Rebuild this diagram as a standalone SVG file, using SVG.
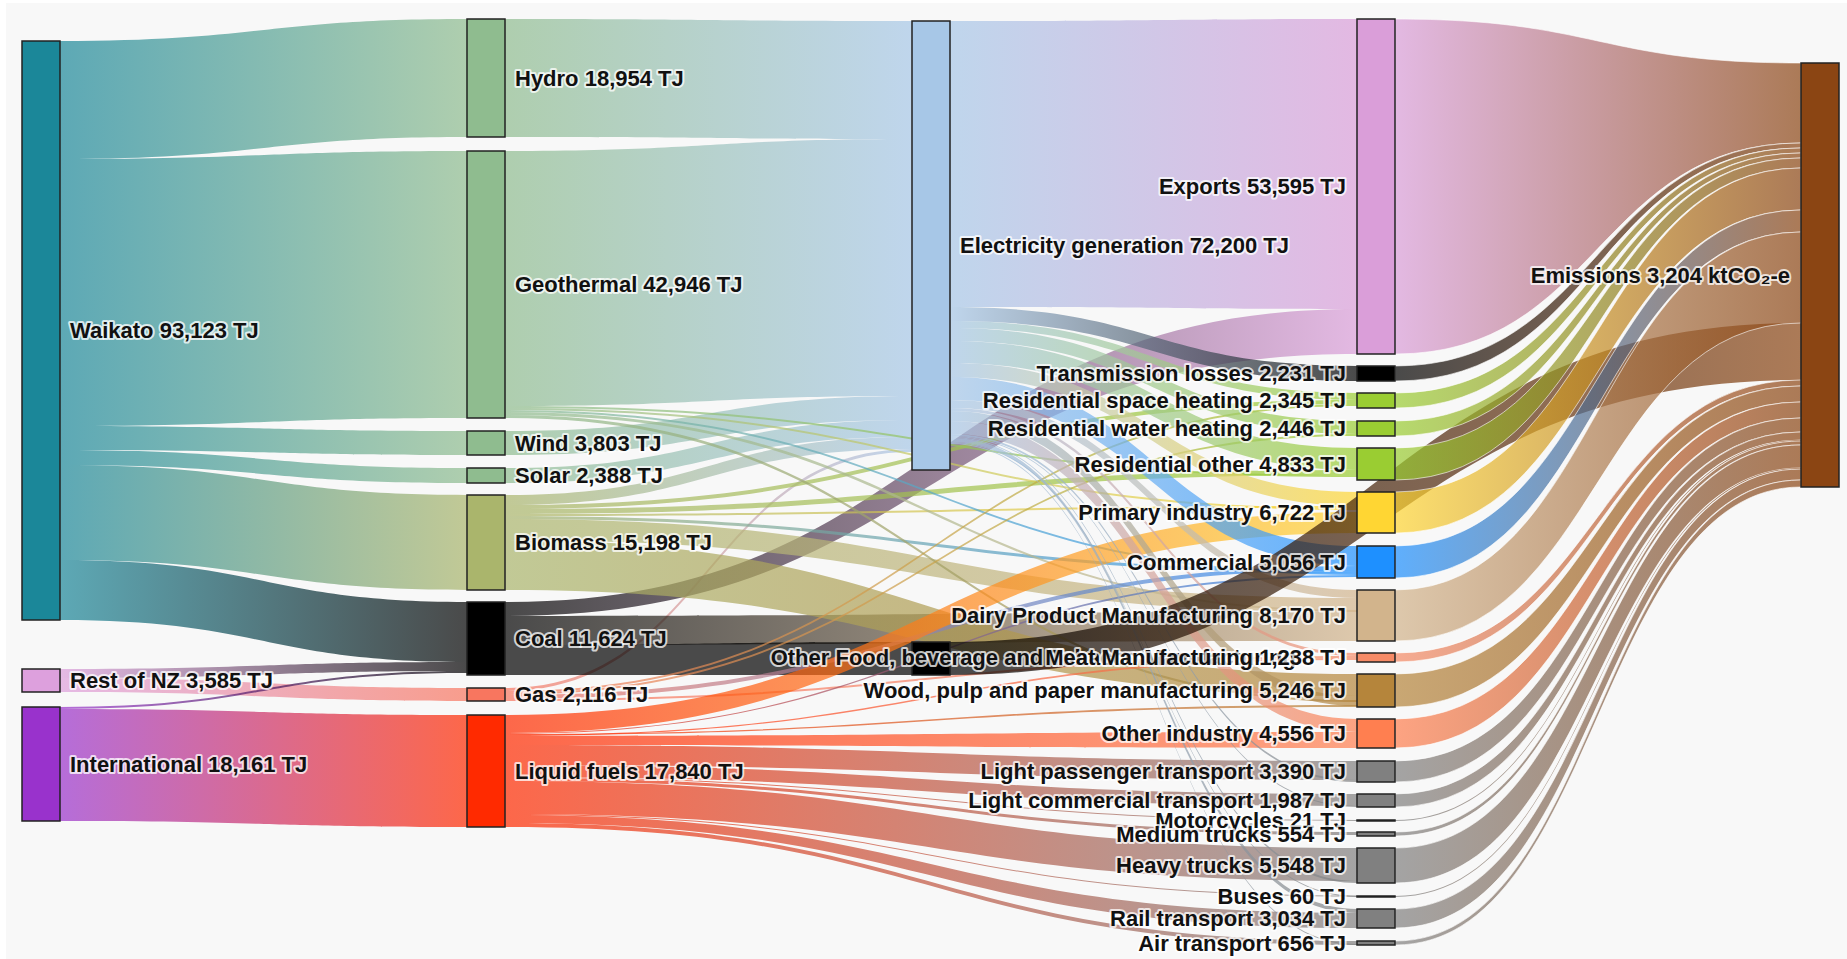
<svg xmlns="http://www.w3.org/2000/svg" width="1847" height="959" viewBox="0 0 1847 959">
<style>
.l{fill-opacity:.7}
.n{stroke:#222;stroke-width:1.5}
.t{font-family:"Liberation Sans",Arial,Helvetica,sans-serif;font-weight:bold;font-size:22px;fill:#111;stroke:#fff;stroke-width:4px;stroke-opacity:.75;stroke-linejoin:round;paint-order:stroke}
.s{text-anchor:start}.e{text-anchor:end}
.wk-sg{fill:url(#wk-sg)}.wk-bm{fill:url(#wk-bm)}.wk-bk{fill:url(#wk-bk)}.rn-bk{fill:url(#rn-bk)}.rn-gs{fill:url(#rn-gs)}.in-bk{fill:url(#in-bk)}.in-lq{fill:url(#in-lq)}
.sg-el{fill:url(#sg-el)}.bm-el{fill:url(#bm-el)}.gs-el{fill:url(#gs-el)}.bk-ex{fill:url(#bk-ex)}.bk-tn{fill:url(#bk-tn)}.bk-bk{fill:#000}
.bm-yg{fill:url(#bm-yg)}.bm-gd{fill:url(#bm-gd)}.bm-db{fill:url(#bm-db)}.bm-tn{fill:url(#bm-tn)}.bm-wd{fill:url(#bm-wd)}
.sg-yg{fill:url(#sg-yg)}.sg-gd{fill:url(#sg-gd)}.sg-db{fill:url(#sg-db)}.sg-tn{fill:url(#sg-tn)}.sg-wd{fill:url(#sg-wd)}
.gs-yg{fill:url(#gs-yg)}.gs-db{fill:url(#gs-db)}.gs-mt{fill:url(#gs-mt)}
.lq-gd{fill:url(#lq-gd)}.lq-db{fill:url(#lq-db)}.lq-wd{fill:url(#lq-wd)}.lq-mt{fill:url(#lq-mt)}.lq-oi{fill:url(#lq-oi)}.lq-gy{fill:url(#lq-gy)}
.el-ex{fill:url(#el-ex)}.el-bk{fill:url(#el-bk)}.el-yg{fill:url(#el-yg)}.el-gd{fill:url(#el-gd)}.el-db{fill:url(#el-db)}.el-tn{fill:url(#el-tn)}.el-mt{fill:url(#el-mt)}.el-wd{fill:url(#el-wd)}.el-oi{fill:url(#el-oi)}.el-gy{fill:url(#el-gy)}
.bk-em{fill:url(#bk-em)}.ex-em{fill:url(#ex-em)}.yg-em{fill:url(#yg-em)}.gd-em{fill:url(#gd-em)}.db-em{fill:url(#db-em)}.tn-em{fill:url(#tn-em)}.mt-em{fill:url(#mt-em)}.wd-em{fill:url(#wd-em)}.oi-em{fill:url(#oi-em)}.gy-em{fill:url(#gy-em)}
.sep{stroke:#fff;stroke-width:1;stroke-opacity:.6}
</style>
<defs>
<linearGradient id="wk-sg"><stop offset="0" stop-color="#1b8799"/><stop offset="1" stop-color="#8fbc8f"/></linearGradient>
<linearGradient id="wk-bm"><stop offset="0" stop-color="#1b8799"/><stop offset="1" stop-color="#aab56c"/></linearGradient>
<linearGradient id="wk-bk"><stop offset="0" stop-color="#1b8799"/><stop offset="1" stop-color="#000"/></linearGradient>
<linearGradient id="rn-bk"><stop offset="0" stop-color="#dda0dd"/><stop offset="1" stop-color="#000"/></linearGradient>
<linearGradient id="rn-gs"><stop offset="0" stop-color="#dda0dd"/><stop offset="1" stop-color="#f8765f"/></linearGradient>
<linearGradient id="in-bk"><stop offset="0" stop-color="#9932cc"/><stop offset="1" stop-color="#000"/></linearGradient>
<linearGradient id="in-lq"><stop offset="0" stop-color="#9932cc"/><stop offset="1" stop-color="#ff2a00"/></linearGradient>
<linearGradient id="sg-el"><stop offset="0" stop-color="#8fbc8f"/><stop offset="1" stop-color="#a7c7e7"/></linearGradient>
<linearGradient id="bm-el"><stop offset="0" stop-color="#aab56c"/><stop offset="1" stop-color="#a7c7e7"/></linearGradient>
<linearGradient id="gs-el"><stop offset="0" stop-color="#f8765f"/><stop offset="1" stop-color="#a7c7e7"/></linearGradient>
<linearGradient id="bk-ex"><stop offset="0" stop-color="#000"/><stop offset="1" stop-color="#da9ed9"/></linearGradient>
<linearGradient id="bk-tn"><stop offset="0" stop-color="#000"/><stop offset="1" stop-color="#d2b48c"/></linearGradient>
<linearGradient id="bm-yg"><stop offset="0" stop-color="#aab56c"/><stop offset="1" stop-color="#9acd32"/></linearGradient>
<linearGradient id="bm-gd"><stop offset="0" stop-color="#aab56c"/><stop offset="1" stop-color="#ffd633"/></linearGradient>
<linearGradient id="bm-db"><stop offset="0" stop-color="#aab56c"/><stop offset="1" stop-color="#1e90ff"/></linearGradient>
<linearGradient id="bm-tn"><stop offset="0" stop-color="#aab56c"/><stop offset="1" stop-color="#d2b48c"/></linearGradient>
<linearGradient id="bm-wd"><stop offset="0" stop-color="#aab56c"/><stop offset="1" stop-color="#b5853b"/></linearGradient>
<linearGradient id="sg-yg"><stop offset="0" stop-color="#8fbc8f"/><stop offset="1" stop-color="#9acd32"/></linearGradient>
<linearGradient id="sg-gd"><stop offset="0" stop-color="#8fbc8f"/><stop offset="1" stop-color="#ffd633"/></linearGradient>
<linearGradient id="sg-db"><stop offset="0" stop-color="#8fbc8f"/><stop offset="1" stop-color="#1e90ff"/></linearGradient>
<linearGradient id="sg-tn"><stop offset="0" stop-color="#8fbc8f"/><stop offset="1" stop-color="#d2b48c"/></linearGradient>
<linearGradient id="sg-wd"><stop offset="0" stop-color="#8fbc8f"/><stop offset="1" stop-color="#b5853b"/></linearGradient>
<linearGradient id="gs-yg"><stop offset="0" stop-color="#f8765f"/><stop offset="1" stop-color="#9acd32"/></linearGradient>
<linearGradient id="gs-db"><stop offset="0" stop-color="#f8765f"/><stop offset="1" stop-color="#1e90ff"/></linearGradient>
<linearGradient id="gs-mt"><stop offset="0" stop-color="#f8765f"/><stop offset="1" stop-color="#f58a66"/></linearGradient>
<linearGradient id="lq-gd"><stop offset="0" stop-color="#ff2a00"/><stop offset="1" stop-color="#ffd633"/></linearGradient>
<linearGradient id="lq-db"><stop offset="0" stop-color="#ff2a00"/><stop offset="1" stop-color="#1e90ff"/></linearGradient>
<linearGradient id="lq-wd"><stop offset="0" stop-color="#ff2a00"/><stop offset="1" stop-color="#b5853b"/></linearGradient>
<linearGradient id="lq-mt"><stop offset="0" stop-color="#ff2a00"/><stop offset="1" stop-color="#f58a66"/></linearGradient>
<linearGradient id="lq-oi"><stop offset="0" stop-color="#ff2a00"/><stop offset="1" stop-color="#ff7f50"/></linearGradient>
<linearGradient id="lq-gy"><stop offset="0" stop-color="#ff2a00"/><stop offset="1" stop-color="#808080"/></linearGradient>
<linearGradient id="el-ex"><stop offset="0" stop-color="#a7c7e7"/><stop offset="1" stop-color="#da9ed9"/></linearGradient>
<linearGradient id="el-bk"><stop offset="0" stop-color="#a7c7e7"/><stop offset="1" stop-color="#000"/></linearGradient>
<linearGradient id="el-yg"><stop offset="0" stop-color="#a7c7e7"/><stop offset="1" stop-color="#9acd32"/></linearGradient>
<linearGradient id="el-gd"><stop offset="0" stop-color="#a7c7e7"/><stop offset="1" stop-color="#ffd633"/></linearGradient>
<linearGradient id="el-db"><stop offset="0" stop-color="#a7c7e7"/><stop offset="1" stop-color="#1e90ff"/></linearGradient>
<linearGradient id="el-tn"><stop offset="0" stop-color="#a7c7e7"/><stop offset="1" stop-color="#d2b48c"/></linearGradient>
<linearGradient id="el-mt"><stop offset="0" stop-color="#a7c7e7"/><stop offset="1" stop-color="#f58a66"/></linearGradient>
<linearGradient id="el-wd"><stop offset="0" stop-color="#a7c7e7"/><stop offset="1" stop-color="#b5853b"/></linearGradient>
<linearGradient id="el-oi"><stop offset="0" stop-color="#a7c7e7"/><stop offset="1" stop-color="#ff7f50"/></linearGradient>
<linearGradient id="el-gy"><stop offset="0" stop-color="#a7c7e7"/><stop offset="1" stop-color="#808080"/></linearGradient>
<linearGradient id="bk-em"><stop offset="0" stop-color="#000"/><stop offset="1" stop-color="#8b4513"/></linearGradient>
<linearGradient id="ex-em"><stop offset="0" stop-color="#da9ed9"/><stop offset="1" stop-color="#8b4513"/></linearGradient>
<linearGradient id="yg-em"><stop offset="0" stop-color="#9acd32"/><stop offset="1" stop-color="#8b4513"/></linearGradient>
<linearGradient id="gd-em"><stop offset="0" stop-color="#ffd633"/><stop offset="1" stop-color="#8b4513"/></linearGradient>
<linearGradient id="db-em"><stop offset="0" stop-color="#1e90ff"/><stop offset="1" stop-color="#8b4513"/></linearGradient>
<linearGradient id="tn-em"><stop offset="0" stop-color="#d2b48c"/><stop offset="1" stop-color="#8b4513"/></linearGradient>
<linearGradient id="mt-em"><stop offset="0" stop-color="#f58a66"/><stop offset="1" stop-color="#8b4513"/></linearGradient>
<linearGradient id="wd-em"><stop offset="0" stop-color="#b5853b"/><stop offset="1" stop-color="#8b4513"/></linearGradient>
<linearGradient id="oi-em"><stop offset="0" stop-color="#ff7f50"/><stop offset="1" stop-color="#8b4513"/></linearGradient>
<linearGradient id="gy-em"><stop offset="0" stop-color="#808080"/><stop offset="1" stop-color="#8b4513"/></linearGradient>
</defs>
<rect width="1847" height="959" fill="#fff"/>
<rect x="6" y="3" width="1841" height="956" fill="#f8f8f8"/>
<g id="links">
<path class="l wk-sg" d="M60,41C263.5,41 263.5,19 467,19L467,137C263.5,137 263.5,159 60,159Z"/>
<path class="l wk-sg" d="M60,159C263.5,159 263.5,151 467,151L467,418C263.5,418 263.5,426 60,426Z"/>
<path class="l wk-sg" d="M60,426C263.5,426 263.5,431 467,431L467,455C263.5,455 263.5,450 60,450Z"/>
<path class="l wk-sg" d="M60,450C263.5,450 263.5,468 467,468L467,483C263.5,483 263.5,465 60,465Z"/>
<path class="l wk-bm" d="M60,465C263.5,465 263.5,495 467,495L467,590C263.5,590 263.5,560 60,560Z"/>
<path class="l wk-bk" d="M60,560C263.5,560 263.5,602 467,602L467,662C263.5,662 263.5,620 60,620Z"/>
<path class="l rn-bk" d="M60,669C263.5,669 263.5,662 467,662L467,671C263.5,671 263.5,678 60,678Z"/>
<path class="l rn-gs" d="M60,678C263.5,678 263.5,688 467,688L467,701C263.5,701 263.5,692 60,692Z"/>
<path class="l in-bk" d="M60,707C263.5,707 263.5,671 467,671L467,673C263.5,673 263.5,709 60,709Z"/>
<path class="l in-lq" d="M60,709C263.5,709 263.5,715 467,715L467,827C263.5,827 263.5,821 60,821Z"/>
<path class="l sg-el" d="M505,19C708.5,19 708.5,21 912,21L912,139C708.5,139 708.5,137 505,137Z"/>
<path class="l sg-el" d="M505,151C708.5,151 708.5,139 912,139L912,396C708.5,396 708.5,406 505,406Z"/>
<path class="l sg-el" d="M505,431C708.5,431 708.5,396 912,396L912,420C708.5,420 708.5,455 505,455Z"/>
<path class="l sg-el" d="M505,468C708.5,468 708.5,420 912,420L912,437C708.5,437 708.5,483 505,483Z"/>
<path class="l bm-el" d="M505,495C708.5,495 708.5,437 912,437L912,449C708.5,449 708.5,505 505,505Z"/>
<path class="l gs-el" d="M505,688C708.5,688 708.5,449 912,449L912,452C708.5,452 708.5,691 505,691Z"/>
<path class="l bk-ex" d="M505,602C931,602 931,309 1357,309L1357,354C931,354 931,616 505,616Z"/>
<path class="l bk-tn" d="M505,616C931,616 931,612 1357,612L1357,641C931,641 931,645 505,645Z"/>
<path class="l bk-bk" d="M505,645C708.5,645 708.5,642 912,642L912,675C708.5,675 708.5,675 505,675Z"/>
<path class="l bm-yg" d="M505,505C931,505 931,400 1357,400L1357,404C931,404 931,509 505,509Z"/>
<path class="l bm-yg" d="M505,509C931,509 931,470 1357,470L1357,475C931,475 931,514 505,514Z"/>
<path class="l bm-gd" d="M505,514C931,514 931,506 1357,506L1357,508C931,508 931,516 505,516Z"/>
<path class="l bm-db" d="M505,516C931,516 931,570 1357,570L1357,573C931,573 931,519 505,519Z"/>
<path class="l bm-tn" d="M505,519C931,519 931,598 1357,598L1357,612C931,612 931,540 505,540Z"/>
<path class="l bm-wd" d="M505,540C931,540 931,674 1357,674L1357,696C931,696 931,590 505,590Z"/>
<path class="l sg-yg" d="M505,406C931,406 931,475 1357,475L1357,477C931,477 931,408 505,408Z"/>
<path class="l sg-gd" d="M505,408C931,408 931,508 1357,508L1357,510C931,510 931,410 505,410Z"/>
<path class="l sg-db" d="M505,410C931,410 931,573 1357,573L1357,575C931,575 931,412 505,412Z"/>
<path class="l sg-tn" d="M505,412C931,412 931,610 1357,610L1357,612C931,612 931,415 505,415Z"/>
<path class="l sg-wd" d="M505,415C931,415 931,700 1357,700L1357,702C931,702 931,418 505,418Z"/>
<path class="l gs-yg" d="M505,691C931,691 931,404 1357,404L1357,406C931,406 931,693 505,693Z"/>
<path class="l gs-yg" d="M505,693C931,693 931,434 1357,434L1357,436C931,436 931,695 505,695Z"/>
<path class="l gs-db" d="M505,695C931,695 931,566 1357,566L1357,570C931,570 931,699 505,699Z"/>
<path class="l gs-mt" d="M505,699C931,699 931,656 1357,656L1357,658C931,658 931,701 505,701Z"/>
<path class="l lq-gd" d="M505,715C931,715 931,512 1357,512L1357,533C931,533 931,733 505,733Z"/>
<path class="l lq-db" d="M505,733C931,733 931,575 1357,575L1357,577C931,577 931,734 505,734Z"/>
<path class="l lq-wd" d="M505,734C931,734 931,705 1357,705L1357,707C931,707 931,735 505,735Z"/>
<path class="l lq-mt" d="M505,735C931,735 931,658 1357,658L1357,660C931,660 931,736 505,736Z"/>
<path class="l lq-oi" d="M505,736C931,736 931,732 1357,732L1357,748C931,748 931,745 505,745Z"/>
<path class="l lq-gy" d="M505,745C931,745 931,761 1357,761L1357,780C931,780 931,765 505,765Z"/>
<path class="l lq-gy" d="M505,765C931,765 931,794 1357,794L1357,806C931,806 931,777 505,777Z"/>
<path class="l lq-gy" d="M505,777C931,777 931,820 1357,820L1357,821C931,821 931,778 505,778Z"/>
<path class="l lq-gy" d="M505,778C931,778 931,832 1357,832L1357,835C931,835 931,781 505,781Z"/>
<path class="l lq-gy" d="M505,781C931,781 931,848 1357,848L1357,881C931,881 931,814 505,814Z"/>
<path class="l lq-gy" d="M505,814C931,814 931,895.5 1357,895.5L1357,896.5C931,896.5 931,815 505,815Z"/>
<path class="l lq-gy" d="M505,815C931,815 931,913 1357,913L1357,928C931,928 931,823 505,823Z"/>
<path class="l lq-gy" d="M505,823C931,823 931,941 1357,941L1357,945C931,945 931,827 505,827Z"/>
<path class="l el-ex" d="M950,21C1153.5,21 1153.5,19 1357,19L1357,309C1153.5,309 1153.5,307 950,307Z"/>
<path class="l el-bk" d="M950,307C1153.5,307 1153.5,366 1357,366L1357,381C1153.5,381 1153.5,321 950,321Z"/>
<path class="l el-yg" d="M950,321C1153.5,321 1153.5,393 1357,393L1357,400C1153.5,400 1153.5,328 950,328Z"/>
<path class="l el-yg" d="M950,328C1153.5,328 1153.5,421 1357,421L1357,434C1153.5,434 1153.5,341 950,341Z"/>
<path class="l el-yg" d="M950,341C1153.5,341 1153.5,448 1357,448L1357,470C1153.5,470 1153.5,363 950,363Z"/>
<path class="l el-gd" d="M950,363C1153.5,363 1153.5,492 1357,492L1357,506C1153.5,506 1153.5,377 950,377Z"/>
<path class="l el-db" d="M950,377C1153.5,377 1153.5,546 1357,546L1357,566C1153.5,566 1153.5,400 950,400Z"/>
<path class="l el-tn" d="M950,400C1153.5,400 1153.5,590 1357,590L1357,598C1153.5,598 1153.5,408 950,408Z"/>
<path class="l el-mt" d="M950,408C1153.5,408 1153.5,653 1357,653L1357,656C1153.5,656 1153.5,411 950,411Z"/>
<path class="l el-wd" d="M950,411C1153.5,411 1153.5,696 1357,696L1357,706C1153.5,706 1153.5,421 950,421Z"/>
<path class="l el-oi" d="M950,421C1153.5,421 1153.5,719 1357,719L1357,732C1153.5,732 1153.5,434 950,434Z"/>
<path class="l el-gy" d="M950,434C1153.5,434 1153.5,780 1357,780L1357,782C1153.5,782 1153.5,436 950,436Z"/>
<path class="l el-gy" d="M950,436C1153.5,436 1153.5,806 1357,806L1357,807C1153.5,807 1153.5,437 950,437Z"/>
<path class="l el-gy" d="M950,437C1153.5,437 1153.5,881 1357,881L1357,883C1153.5,883 1153.5,438 950,438Z"/>
<path class="l el-gy" d="M950,438C1153.5,438 1153.5,909 1357,909L1357,913C1153.5,913 1153.5,442 950,442Z"/>
<path class="l el-gy" d="M950,442C1153.5,442 1153.5,896 1357,896L1357,897C1153.5,897 1153.5,443 950,443Z"/>
<path class="l el-gy" d="M950,443C1153.5,443 1153.5,944 1357,944L1357,945C1153.5,945 1153.5,444 950,444Z"/>
<path class="l bk-em" d="M950,642C1375.5,642 1375.5,323 1801,323L1801,380C1375.5,380 1375.5,675 950,675Z"/>
<path class="l ex-em sep" d="M1395,19C1598,19 1598,63 1801,63L1801,143C1598,143 1598,354 1395,354Z"/>
<path class="l bk-em sep" d="M1395,366C1598,366 1598,143 1801,143L1801,148C1598,148 1598,381 1395,381Z"/>
<path class="l yg-em sep" d="M1395,393C1598,393 1598,148 1801,148L1801,153C1598,153 1598,408 1395,408Z"/>
<path class="l yg-em sep" d="M1395,421C1598,421 1598,153 1801,153L1801,158C1598,158 1598,436 1395,436Z"/>
<path class="l yg-em sep" d="M1395,448C1598,448 1598,158 1801,158L1801,168C1598,168 1598,480 1395,480Z"/>
<path class="l gd-em sep" d="M1395,492C1598,492 1598,168 1801,168L1801,210C1598,210 1598,533 1395,533Z"/>
<path class="l db-em sep" d="M1395,546C1598,546 1598,210 1801,210L1801,232C1598,232 1598,578 1395,578Z"/>
<path class="l tn-em sep" d="M1395,590C1598,590 1598,232 1801,232L1801,323C1598,323 1598,641 1395,641Z"/>
<path class="l mt-em sep" d="M1395,653C1598,653 1598,380 1801,380L1801,386C1598,386 1598,662 1395,662Z"/>
<path class="l wd-em sep" d="M1395,674C1598,674 1598,386 1801,386L1801,402C1598,402 1598,707 1395,707Z"/>
<path class="l oi-em sep" d="M1395,719C1598,719 1598,402 1801,402L1801,418C1598,418 1598,748 1395,748Z"/>
<path class="l gy-em sep" d="M1395,761C1598,761 1598,418 1801,418L1801,432C1598,432 1598,782 1395,782Z"/>
<path class="l gy-em sep" d="M1395,794C1598,794 1598,432 1801,432L1801,440C1598,440 1598,807 1395,807Z"/>
<path class="l gy-em" d="M1395,820C1598,820 1598,440 1801,440L1801,441C1598,441 1598,821 1395,821Z"/>
<path class="l gy-em sep" d="M1395,832C1598,832 1598,441 1801,441L1801,445C1598,445 1598,836 1395,836Z"/>
<path class="l gy-em sep" d="M1395,848C1598,848 1598,445 1801,445L1801,468C1598,468 1598,883 1395,883Z"/>
<path class="l gy-em" d="M1395,896C1598,896 1598,468 1801,468L1801,469C1598,469 1598,897 1395,897Z"/>
<path class="l gy-em sep" d="M1395,909C1598,909 1598,469 1801,469L1801,480C1598,480 1598,928 1395,928Z"/>
<path class="l gy-em sep" d="M1395,941C1598,941 1598,480 1801,480L1801,487C1598,487 1598,945 1395,945Z"/>
</g>
<g id="node-waikato"><rect class="n" x="22" y="41" width="38" height="579" fill="#1b8799"/><text class="t s" x="70" y="338">Waikato 93,123 TJ</text></g>
<g id="node-rest-of-nz"><rect class="n" x="22" y="669" width="38" height="23" fill="#dda0dd"/><text class="t s" x="70" y="688">Rest of NZ 3,585 TJ</text></g>
<g id="node-international"><rect class="n" x="22" y="707" width="38" height="114" fill="#9932cc"/><text class="t s" x="70" y="772">International 18,161 TJ</text></g>
<g id="node-hydro"><rect class="n" x="467" y="19" width="38" height="118" fill="#8fbc8f"/><text class="t s" x="515" y="86">Hydro 18,954 TJ</text></g>
<g id="node-geothermal"><rect class="n" x="467" y="151" width="38" height="267" fill="#8fbc8f"/><text class="t s" x="515" y="292">Geothermal 42,946 TJ</text></g>
<g id="node-wind"><rect class="n" x="467" y="431" width="38" height="24" fill="#8fbc8f"/><text class="t s" x="515" y="451">Wind 3,803 TJ</text></g>
<g id="node-solar"><rect class="n" x="467" y="468" width="38" height="15" fill="#8fbc8f"/><text class="t s" x="515" y="483">Solar 2,388 TJ</text></g>
<g id="node-biomass"><rect class="n" x="467" y="495" width="38" height="95" fill="#aab56c"/><text class="t s" x="515" y="550">Biomass 15,198 TJ</text></g>
<g id="node-coal"><rect class="n" x="467" y="602" width="38" height="73" fill="#000"/><text class="t s" x="515" y="646">Coal 11,624 TJ</text></g>
<g id="node-gas"><rect class="n" x="467" y="688" width="38" height="13" fill="#f8765f"/><text class="t s" x="515" y="702">Gas 2,116 TJ</text></g>
<g id="node-liquid-fuels"><rect class="n" x="467" y="715" width="38" height="112" fill="#ff2a00"/><text class="t s" x="515" y="779">Liquid fuels 17,840 TJ</text></g>
<g id="node-electricity"><rect class="n" x="912" y="21" width="38" height="449" fill="#a7c7e7"/><text class="t s" x="960" y="253">Electricity generation 72,200 TJ</text></g>
<g id="node-coal-use"><rect class="n" x="912" y="642" width="38" height="33" fill="#000"/></g>
<g id="node-exports"><rect class="n" x="1357" y="19" width="38" height="335" fill="#da9ed9"/><text class="t e" x="1346" y="194">Exports 53,595 TJ</text></g>
<g id="node-transmission"><rect class="n" x="1357" y="366" width="38" height="15" fill="#000"/><text class="t e" x="1346" y="381">Transmission losses 2,231 TJ</text></g>
<g id="node-res-space"><rect class="n" x="1357" y="393" width="38" height="15" fill="#9acd32"/><text class="t e" x="1346" y="408">Residential space heating 2,345 TJ</text></g>
<g id="node-res-water"><rect class="n" x="1357" y="421" width="38" height="15" fill="#9acd32"/><text class="t e" x="1346" y="436">Residential water heating 2,446 TJ</text></g>
<g id="node-res-other"><rect class="n" x="1357" y="448" width="38" height="32" fill="#9acd32"/><text class="t e" x="1346" y="472">Residential other 4,833 TJ</text></g>
<g id="node-primary"><rect class="n" x="1357" y="492" width="38" height="41" fill="#ffd633"/><text class="t e" x="1346" y="520">Primary industry 6,722 TJ</text></g>
<g id="node-commercial"><rect class="n" x="1357" y="546" width="38" height="32" fill="#1e90ff"/><text class="t e" x="1346" y="570">Commercial 5,056 TJ</text></g>
<g id="node-dairy"><rect class="n" x="1357" y="590" width="38" height="51" fill="#d2b48c"/><text class="t e" x="1346" y="623">Dairy Product Manufacturing 8,170 TJ</text></g>
<g id="node-other-food"><text class="t e" x="1346" y="665">Other Food, beverage and Tobacco Manufacturing 8 TJ</text></g>
<g id="node-meat"><rect class="n" x="1357" y="653" width="38" height="9" fill="#f58a66"/><text class="t e" x="1346" y="665">Meat Manufacturing 1,238 TJ</text></g>
<g id="node-wood"><rect class="n" x="1357" y="674" width="38" height="33" fill="#b5853b"/><text class="t e" x="1346" y="698">Wood, pulp and paper manufacturing 5,246 TJ</text></g>
<g id="node-other-industry"><rect class="n" x="1357" y="719" width="38" height="29" fill="#ff7f50"/><text class="t e" x="1346" y="741">Other industry 4,556 TJ</text></g>
<g id="node-light-passenger"><rect class="n" x="1357" y="761" width="38" height="21" fill="#808080"/><text class="t e" x="1346" y="779">Light passenger transport 3,390 TJ</text></g>
<g id="node-light-commercial"><rect class="n" x="1357" y="794" width="38" height="13" fill="#808080"/><text class="t e" x="1346" y="808">Light commercial transport 1,987 TJ</text></g>
<g id="node-motorcycles"><rect class="n" x="1357" y="820" width="38" height="1" fill="#808080"/><text class="t e" x="1346" y="828">Motorcycles 21 TJ</text></g>
<g id="node-medium-trucks"><rect class="n" x="1357" y="832" width="38" height="4" fill="#808080"/><text class="t e" x="1346" y="842">Medium trucks 554 TJ</text></g>
<g id="node-heavy-trucks"><rect class="n" x="1357" y="848" width="38" height="35" fill="#808080"/><text class="t e" x="1346" y="873">Heavy trucks 5,548 TJ</text></g>
<g id="node-buses"><rect class="n" x="1357" y="896" width="38" height="1" fill="#808080"/><text class="t e" x="1346" y="904">Buses 60 TJ</text></g>
<g id="node-rail"><rect class="n" x="1357" y="909" width="38" height="19" fill="#808080"/><text class="t e" x="1346" y="926">Rail transport 3,034 TJ</text></g>
<g id="node-air"><rect class="n" x="1357" y="941" width="38" height="4" fill="#808080"/><text class="t e" x="1346" y="951">Air transport 656 TJ</text></g>
<g id="node-emissions"><rect class="n" x="1801" y="63" width="38" height="424" fill="#8b4513"/><text class="t e" x="1790" y="283">Emissions 3,204 ktCO₂-e</text></g>
</svg>
